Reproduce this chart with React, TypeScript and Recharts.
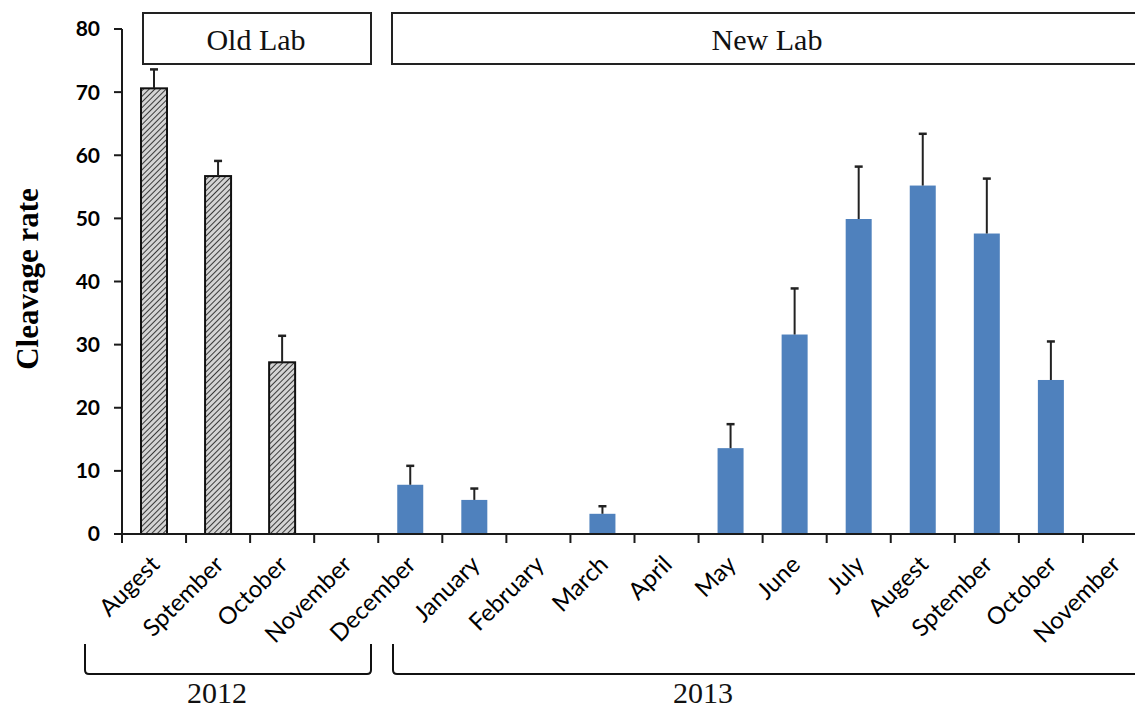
import React from "react";
import { Bar, BarChart, XAxis, YAxis } from "recharts";

// months on the x axis (spelling kept as in the figure)
const months = [
  "Augest", "Sptember", "October", "November", "December",
  "January", "February", "March", "April", "May", "June",
  "July", "Augest", "Sptember", "October", "November",
];
const rates = [70.6, 56.7, 27.2, null, 7.8, 5.4, null, 3.2, null, 13.6, 31.6, 49.9, 55.2, 47.6, 24.4, null];
const errors = [3.0, 2.4, 4.2, 0, 3.0, 1.8, 0, 1.2, 0, 3.8, 7.3, 8.3, 8.2, 8.7, 6.1, 0];
const labs = [
  "Old Lab", "Old Lab", "Old Lab", "Old Lab", "New Lab", "New Lab", "New Lab", "New Lab",
  "New Lab", "New Lab", "New Lab", "New Lab", "New Lab", "New Lab", "New Lab", "New Lab",
];
const yTicks = [0, 10, 20, 30, 40, 50, 60, 70, 80];

// each month sits in the middle of a unit-wide slot
const data = months.map((month, i) => ({
  pos: i + 0.5,
  month,
  rate: rates[i],
  error: errors[i],
  lab: labs[i],
}));

// tick lines on slot boundaries, labels on slot centres
const slotTicks: number[] = [];
for (let i = 0; i <= months.length * 2; i++) slotTicks.push(i / 2);

const AXIS = "#1a1a1a";

function RateBar(props: any) {
  const { x, y, width, height, payload } = props;
  if (payload.rate == null || !height) return null;
  const perUnit = height / payload.rate;
  const top = y - payload.error * perUnit;
  const cx = x + width / 2;
  const old = payload.lab === "Old Lab";
  return (
    <g>
      <rect
        x={x}
        y={y}
        width={width}
        height={height}
        fill={old ? "url(#hatch)" : "#4f81bd"}
        stroke={old ? "#111" : "none"}
        strokeWidth={2}
      />
      <line x1={cx} x2={cx} y1={y} y2={top} stroke="#222" strokeWidth={2} />
      <line x1={cx - 4} x2={cx + 4} y1={top} y2={top} stroke="#222" strokeWidth={2.5} />
    </g>
  );
}

function MonthTick(props: any) {
  const { x, y, payload } = props;
  const v = payload.value;
  if (Number.isInteger(v)) {
    return <line x1={x} x2={x} y1={y} y2={y + 9} stroke={AXIS} strokeWidth={2} />;
  }
  const name = months[Math.floor(v)];
  const ax = x + 7;
  const ay = y + 32;
  return (
    <text
      x={ax}
      y={ay}
      transform={`rotate(-45 ${ax} ${ay})`}
      textAnchor="end"
      fontFamily="Lato"
      fontSize={24}
      fill="#000"
    >
      {name}
    </text>
  );
}

export default function App() {
  return (
    <div style={{ position: "relative", width: 1135, height: 709, overflow: "hidden", background: "#fff" }}>
      <style>{`body{margin:0}`}</style>
      <BarChart width={1147} height={709} data={data} margin={{ top: 29, right: 0, left: 0, bottom: 0 }}>
        <defs>
          <pattern id="hatch" patternUnits="userSpaceOnUse" width={4} height={4} patternTransform="rotate(45)">
            <rect width={4} height={4} fill="#d4d4d4" />
            <line x1={0} y1={0} x2={0} y2={4} stroke="#3a3a3a" strokeWidth={2} />
          </pattern>
        </defs>
        <XAxis
          dataKey="pos"
          type="number"
          domain={[0, months.length]}
          ticks={slotTicks}
          interval={0}
          allowDataOverflow
          tickLine={false}
          tickSize={0}
          tickMargin={0}
          axisLine={{ stroke: AXIS, strokeWidth: 2 }}
          tick={<MonthTick />}
          height={175}
        />
        <YAxis
          domain={[0, 80]}
          ticks={yTicks}
          interval={0}
          width={122}
          tickSize={8}
          tickMargin={14}
          axisLine={{ stroke: AXIS, strokeWidth: 2 }}
          tickLine={{ stroke: AXIS, strokeWidth: 2 }}
          tick={{ fill: "#000", fontSize: 21, fontWeight: 700, fontFamily: "Lato" }}
        />
        <Bar dataKey="rate" barSize={26} shape={<RateBar />} isAnimationActive={false} />
      </BarChart>

      <svg
        width={1135}
        height={709}
        style={{ position: "absolute", left: 0, top: 0, pointerEvents: "none" }}
      >
        <text
          x={0}
          y={0}
          transform="translate(38 279) rotate(-90)"
          textAnchor="middle"
          fontFamily="Liberation Serif"
          fontWeight={700}
          fontSize={31}
          fill="#000"
        >
          Cleavage rate
        </text>

        <rect x={143} y={13} width={228} height={51} fill="#fff" stroke="#222" strokeWidth={2} />
        <text x={256} y={50} textAnchor="middle" fontFamily="Liberation Serif" fontSize={30} fill="#111">
          Old Lab
        </text>
        <rect x={392} y={13} width={780} height={51} fill="#fff" stroke="#222" strokeWidth={2} />
        <text x={767} y={50} textAnchor="middle" fontFamily="Liberation Serif" fontSize={30} fill="#111">
          New Lab
        </text>

        <path d="M85 644 L85 670 Q85 674 89 674 L367 674 Q371 674 371 670 L371 644" fill="none" stroke="#111" strokeWidth={2} />
        <path d="M393 644 L393 670 Q393 674 397 674 L1140 674" fill="none" stroke="#111" strokeWidth={2} />
        <text x={217} y={703} textAnchor="middle" fontFamily="Liberation Serif" fontSize={30} fill="#111">
          2012
        </text>
        <text x={703} y={703} textAnchor="middle" fontFamily="Liberation Serif" fontSize={30} fill="#111">
          2013
        </text>
      </svg>
    </div>
  );
}
